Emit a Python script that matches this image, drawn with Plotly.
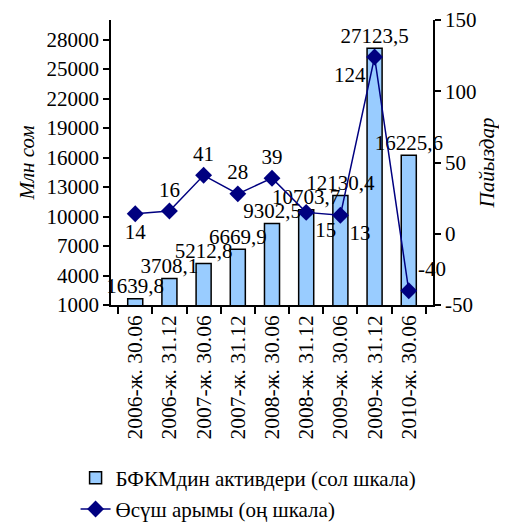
import plotly.graph_objects as go

categories = ["2006-ж. 30.06", "2006-ж. 31.12", "2007-ж. 30.06", "2007-ж. 31.12",
              "2008-ж. 30.06", "2008-ж. 31.12", "2009-ж. 30.06", "2009-ж. 31.12",
              "2010-ж. 30.06"]
assets = [1639.8, 3708.1, 5212.8, 6669.9, 9302.5, 10703.7, 12130.4, 27123.5, 16225.6]
growth = [14, 16, 41, 28, 39, 15, 13, 124, -40]
left_ticks = [1000, 4000, 7000, 10000, 13000, 16000, 19000, 22000, 25000, 28000]
right_ticks = [-50, 0, 50, 100, 150]

FONT = "Times New Roman, Liberation Serif, serif"
asset_text = [f"{v:.1f}".replace(".", ",") for v in assets]
growth_pos = ["bottom center", "top center", "top center", "top center", "top center",
              "bottom right", "bottom right", "bottom left", "top right"]

fig = go.Figure()
fig.add_trace(go.Bar(
    x=categories, y=assets, name="БФКМдин активдери (сол шкала)",
    marker=dict(color="#99CCFF", line=dict(color="black", width=1.5)),
    legendgroup="a",
))
# bar value labels drawn on top of all bars
fig.add_trace(go.Scatter(
    x=categories, y=assets, mode="text", text=asset_text,
    textposition="top center", showlegend=False, hoverinfo="skip",
    textfont=dict(family=FONT, size=21, color="black"), cliponaxis=False,
))
fig.add_trace(go.Scatter(
    x=categories, y=growth, yaxis="y2", name="Өсүш арымы (оң шкала)",
    mode="lines+markers+text",
    line=dict(color="#000080", width=1.5),
    marker=dict(symbol="diamond", size=13, color="#000080"),
    text=[str(g) for g in growth], textposition=growth_pos,
    textfont=dict(family=FONT, size=21, color="black"), cliponaxis=False,
    legendgroup="b",
))

fig.update_layout(
    width=499, height=517,
    margin=dict(l=103, r=74, t=12, b=220, autoexpand=False),
    paper_bgcolor="white", plot_bgcolor="white",
    font=dict(family=FONT, size=21, color="black"),
    bargap=0.56,
    showlegend=True,
    legend=dict(x=-0.11, y=-0.535, xanchor="left", yanchor="top",
                font=dict(family=FONT, size=21, color="black"),
                traceorder="grouped", tracegroupgap=1,
                bgcolor="rgba(0,0,0,0)"),
    xaxis=dict(showline=True, linecolor="black", linewidth=1.5,
               ticks="outside", ticklen=7, tickcolor="black", tickwidth=1.5,
               tickson="boundaries", tickangle=-90,
               tickfont=dict(family=FONT, size=21.5), showgrid=False),
    yaxis=dict(range=[1000, 30000], tickvals=left_ticks,
               ticktext=[str(t) for t in left_ticks],
               showline=True, linecolor="black", linewidth=1.5,
               ticks="outside", ticklen=6, tickcolor="black", tickwidth=1.5,
               tickfont=dict(family=FONT, size=21), showgrid=False, zeroline=False,
               title=dict(text="<i>Млн сом</i>", standoff=6,
                          font=dict(family=FONT, size=21))),
    yaxis2=dict(range=[-50, 150], tickvals=right_ticks,
                ticktext=[str(t) for t in right_ticks],
                overlaying="y", side="right",
                showline=True, linecolor="black", linewidth=1.5,
                ticks="outside", ticklen=6, tickcolor="black", tickwidth=1.5,
                tickfont=dict(family=FONT, size=21), showgrid=False, zeroline=False,
                title=dict(text="<i>Пайыздар</i>", standoff=4,
                           font=dict(family=FONT, size=21))),
)

fig.write_html("out.html")
